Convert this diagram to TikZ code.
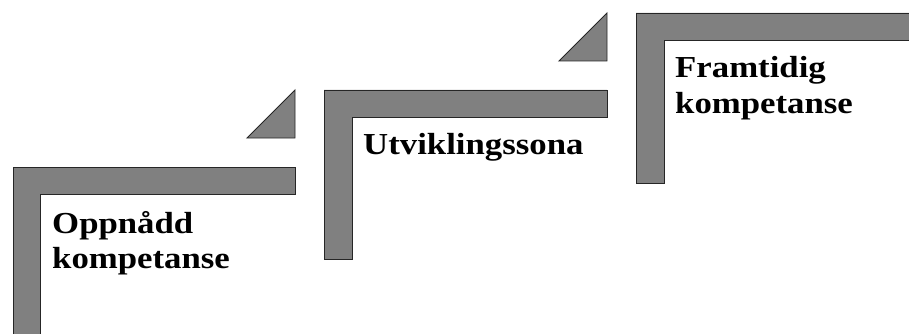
\documentclass[tikz,border=0pt]{standalone}
\usepackage{fontspec}
\setmainfont{Liberation Serif}
\newcommand{\wide}[1]{\scalebox{1.14}[1]{#1}}
\begin{document}
\begin{tikzpicture}[x=1pt,y=-1pt,
  stair/.style={fill=black!50,draw=black!85,line width=0.9pt,line join=miter},
  lbl/.style={inner sep=0pt,anchor=base west,align=left,font=\bfseries\fontsize{30.5}{35.5}\selectfont}]
\useasboundingbox (0,0) rectangle (909,334);
\clip (0,0) rectangle (909,334);
% step 1
\draw[stair] (13,345) -- (13,167) -- (295,167) -- (295,194) -- (40,194) -- (40,345) -- cycle;
% step 2
\draw[stair] (324,259) -- (324,90) -- (607,90) -- (607,117) -- (352,117) -- (352,259) -- cycle;
\draw[stair] (295,90) -- (295,138) -- (247,138) -- cycle;
% step 3
\draw[stair] (636,183) -- (636,13) -- (920,13) -- (920,40) -- (664,40) -- (664,183) -- cycle;
\draw[stair] (607,13) -- (607,61) -- (559,61) -- cycle;
% labels
\node[lbl] (t1) at (52,268.5) {\wide{Oppnådd}\\\wide{kompetanse}};
\node[lbl] (t2) at (363,154.5) {\wide{Utviklingssona}};
\node[lbl] (t3) at (675,113.3) {\wide{Framtidig}\\\wide{kompetanse}};
\end{tikzpicture}
\end{document}
